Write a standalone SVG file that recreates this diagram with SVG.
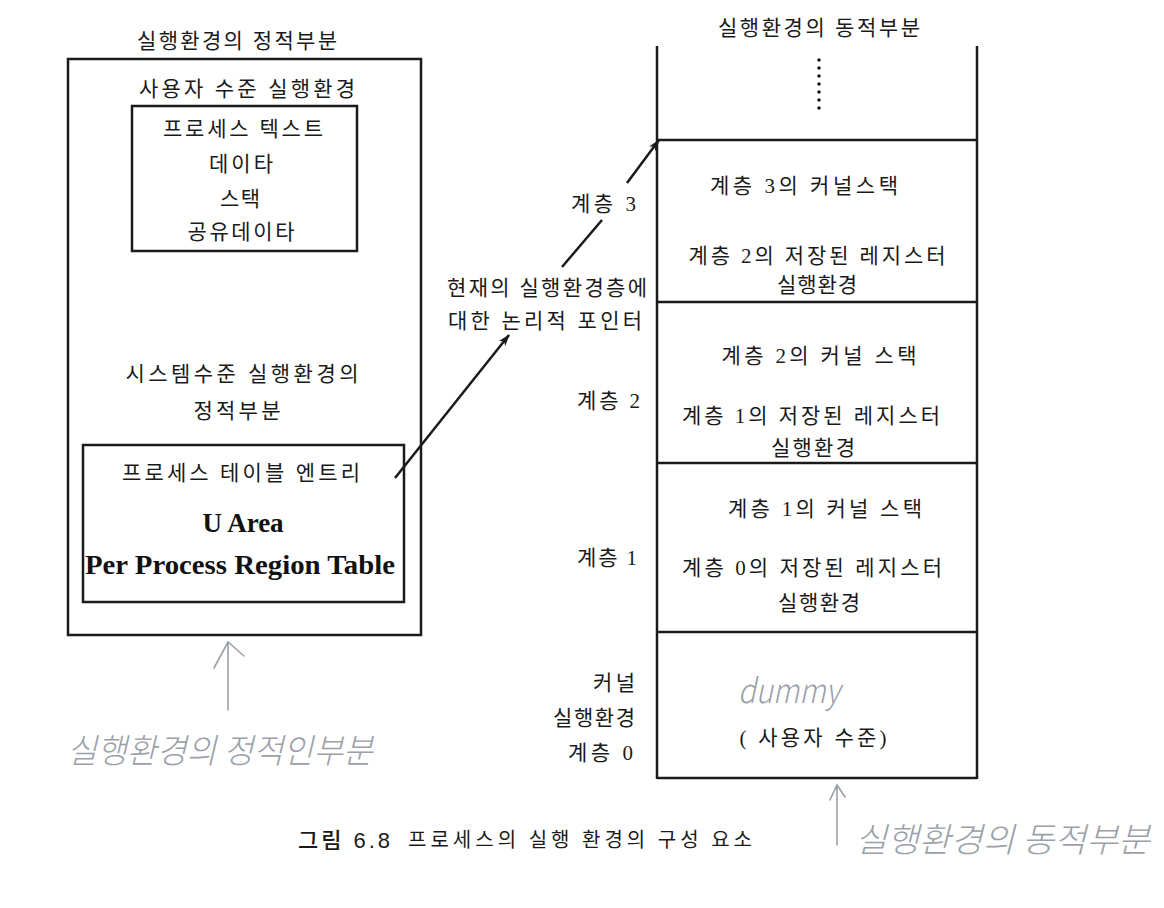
<svg xmlns="http://www.w3.org/2000/svg" width="1164" height="908" viewBox="0 0 1164 908">
  <style>
    .box { fill: none; stroke: #1a1a1a; stroke-width: 2.5; }
    .ln { stroke: #1a1a1a; stroke-width: 2.5; fill: none; }
    .kr { font-family: "Liberation Serif", "Noto Sans CJK KR", serif; font-size: 21px; fill: #1a1a1a; }
    .c { text-anchor: middle; }
    .r { text-anchor: end; }
    .en { font-family: "Liberation Serif", serif; font-weight: bold; font-size: 27px; fill: #111; text-anchor: middle; }
    .cap { font-family: "Noto Sans CJK KR", sans-serif; font-size: 20px; fill: #1a1a1a; }
    .capb { font-family: "Liberation Sans", "Noto Sans CJK KR", sans-serif; font-size: 22px; font-weight: 500; fill: #1a1a1a; }
    .hand { font-family: "Noto Sans CJK KR", sans-serif; font-style: italic; font-weight: 300; fill: #9ba0a8; }
    .pencil { stroke: #9ba0a8; stroke-width: 1.6; fill: none; stroke-linecap: round; }
    .arrow { stroke: #1a1a1a; stroke-width: 2.5; fill: none; }
  </style>
  <defs>
    <marker id="ah" viewBox="0 0 12 8" refX="11" refY="4" markerWidth="12" markerHeight="8" markerUnits="userSpaceOnUse" orient="auto">
      <path d="M0,0 L12,4 L0,8 L3,4 Z" fill="#1a1a1a"/>
    </marker>
  </defs>
  <rect width="1164" height="908" fill="#ffffff"/>

  <!-- Left: static part -->
  <g id="static-part">
    <text class="kr c" x="237" y="48" textLength="200" lengthAdjust="spacing">실행환경의 정적부분</text>
    <rect class="box" x="68" y="59" width="353" height="576"/>
    <text class="kr c" x="247" y="96" textLength="216" lengthAdjust="spacing">사용자 수준 실행환경</text>
  </g>

  <g id="user-level">
    <rect class="box" x="132" y="106" width="225" height="145"/>
    <text class="kr c" x="243" y="136" textLength="160" lengthAdjust="spacing">프로세스 텍스트</text>
    <text class="kr c" x="241" y="171" textLength="64" lengthAdjust="spacing">데이타</text>
    <text class="kr c" x="240" y="206" textLength="40" lengthAdjust="spacing">스택</text>
    <text class="kr c" x="241" y="239" textLength="107" lengthAdjust="spacing">공유데이타</text>
  </g>

  <g id="system-level-label">
    <text class="kr c" x="242" y="381" textLength="233" lengthAdjust="spacing">시스템수준 실행환경의</text>
    <text class="kr c" x="237" y="418" textLength="87" lengthAdjust="spacing">정적부분</text>
  </g>

  <g id="system-level">
    <rect class="box" x="83" y="445" width="321" height="157"/>
    <text class="kr c" x="241" y="480" textLength="238" lengthAdjust="spacing">프로세스 테이블 엔트리</text>
    <text class="en" x="243" y="532">U Area</text>
    <text class="en" x="240" y="574" textLength="310" lengthAdjust="spacingAndGlyphs">Per Process Region Table</text>
  </g>

  <!-- Right: dynamic part -->
  <g id="dynamic-part">
    <text class="kr c" x="819" y="35" textLength="202" lengthAdjust="spacing">실행환경의 동적부분</text>
    <line class="ln" x1="657" y1="46" x2="657" y2="779"/>
    <line class="ln" x1="977" y1="46" x2="977" y2="779"/>
    <g fill="#1a1a1a">
      <circle cx="819" cy="60" r="1.8"/>
      <circle cx="819" cy="68" r="1.8"/>
      <circle cx="819" cy="76" r="1.8"/>
      <circle cx="819" cy="84" r="1.8"/>
      <circle cx="819" cy="92" r="1.8"/>
      <circle cx="819" cy="100" r="1.8"/>
      <circle cx="819" cy="108" r="1.8"/>
    </g>
  </g>

  <g id="layer3">
    <line class="ln" x1="657" y1="140" x2="977" y2="140"/>
    <text class="kr c" x="804" y="193" textLength="188" lengthAdjust="spacing">계층 3의 커널스택</text>
    <text class="kr c" x="817" y="263" textLength="257" lengthAdjust="spacing">계층 2의 저장된 레지스터</text>
    <text class="kr c" x="817" y="292" textLength="80" lengthAdjust="spacing">실행환경</text>
    <text class="kr r" x="636" y="211" textLength="65" lengthAdjust="spacing">계층 3</text>
  </g>

  <g id="layer2">
    <line class="ln" x1="657" y1="302" x2="977" y2="302"/>
    <text class="kr c" x="819" y="363" textLength="195" lengthAdjust="spacing">계층 2의 커널 스택</text>
    <text class="kr c" x="811" y="423" textLength="258" lengthAdjust="spacing">계층 1의 저장된 레지스터</text>
    <text class="kr c" x="813" y="455" textLength="84" lengthAdjust="spacing">실행환경</text>
    <text class="kr r" x="640" y="408" textLength="63" lengthAdjust="spacing">계층 2</text>
  </g>

  <g id="layer1">
    <line class="ln" x1="657" y1="463" x2="977" y2="463"/>
    <text class="kr c" x="825" y="516" textLength="194" lengthAdjust="spacing">계층 1의 커널 스택</text>
    <text class="kr c" x="812" y="575" textLength="260" lengthAdjust="spacing">계층 0의 저장된 레지스터</text>
    <text class="kr c" x="819" y="610" textLength="82" lengthAdjust="spacing">실행환경</text>
    <text class="kr r" x="637" y="565" textLength="60" lengthAdjust="spacing">계층 1</text>
  </g>

  <g id="layer0">
    <line class="ln" x1="657" y1="632" x2="977" y2="632"/>
    <line class="ln" x1="657" y1="778" x2="977" y2="778"/>
    <text class="hand" x="738" y="703" font-size="34" textLength="102" lengthAdjust="spacingAndGlyphs">dummy</text>
    <text class="kr c" x="813" y="745" textLength="147" lengthAdjust="spacing">( 사용자 수준)</text>
    <text class="kr r" x="635" y="690" textLength="42" lengthAdjust="spacing">커널</text>
    <text class="kr r" x="635" y="725" textLength="82" lengthAdjust="spacing">실행환경</text>
    <text class="kr r" x="633" y="760" textLength="65" lengthAdjust="spacing">계층 0</text>
  </g>

  <g id="pointer-label">
    <text class="kr c" x="547" y="295" textLength="200" lengthAdjust="spacing">현재의 실행환경층에</text>
    <text class="kr c" x="545" y="328" textLength="194" lengthAdjust="spacing">대한 논리적 포인터</text>
  </g>

  <!-- Connectors -->
  <g id="connectors">
    <line class="arrow" x1="395" y1="478" x2="509" y2="335" marker-end="url(#ah)"/>
    <line class="arrow" x1="562" y1="267" x2="602" y2="220"/>
    <line class="arrow" x1="627" y1="183" x2="659" y2="140" marker-end="url(#ah)"/>
    <path class="pencil" d="M228,710 L228,642 M214,668 L228,642 L244,656"/>
    <path class="pencil" d="M837,845 L837,785 M830,800 L837,785 L845,797"/>
  </g>

  <g id="handwritten-notes">
    <text class="hand" x="67" y="763" font-size="34" textLength="306" lengthAdjust="spacingAndGlyphs">실행환경의 정적인부분</text>
    <text class="hand" x="855" y="852" font-size="34" textLength="295" lengthAdjust="spacingAndGlyphs">실행환경의 동적부분</text>
  </g>

  <g id="caption">
    <text class="capb" x="298" y="848" textLength="92" lengthAdjust="spacing">그림 6.8</text>
    <text class="cap" x="408" y="847" textLength="344" lengthAdjust="spacing">프로세스의 실행 환경의 구성 요소</text>
  </g>
</svg>
